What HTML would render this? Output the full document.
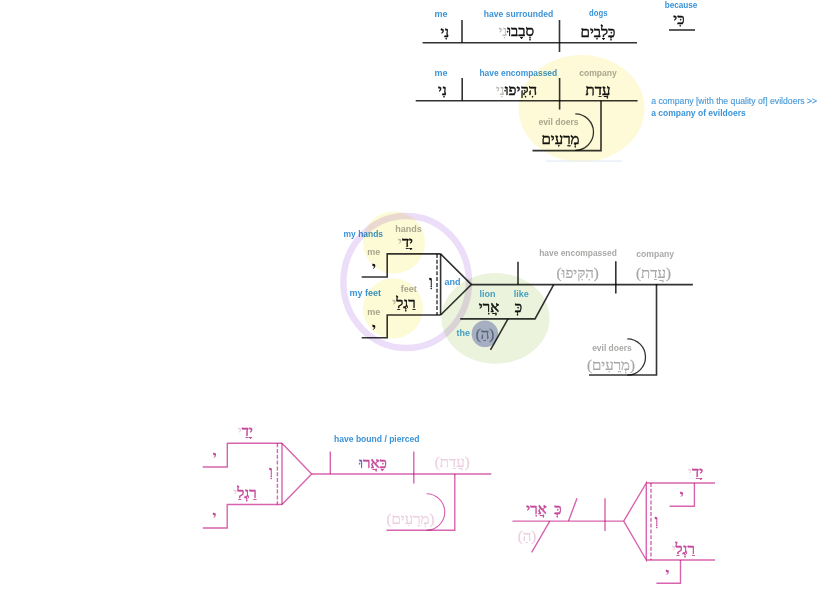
<!DOCTYPE html>
<html><head><meta charset="utf-8">
<style>
html,body{margin:0;padding:0;background:#fff;width:825px;height:589px;overflow:hidden}
svg{display:block}
.en{font-family:"Liberation Sans",sans-serif;font-weight:bold;font-size:9px}
.bl{fill:#3b93d8}
.gr{fill:#a9a9a7}
.he{font-family:"Liberation Serif",serif;font-size:15px;fill:#111;stroke:#111;stroke-width:0.45}
.hg{fill:#b8b8b2;stroke:#b8b8b2;stroke-width:0.2}
.hgr{fill:#a6a6a6;stroke:#a6a6a6;stroke-width:0.2}
.pkt{fill:#c4489a;stroke:#c4489a}
.lpk{fill:#eccfe0;stroke:#eccfe0;stroke-width:0.2}
.ln{stroke:#333;stroke-width:1.6;fill:none}
.pk{stroke:#d864ae;stroke-width:1.4;fill:none}
.mb{mix-blend-mode:multiply}
svg text,svg path{mix-blend-mode:multiply}
</style></head><body>
<svg width="825" height="589" viewBox="0 0 825 589">
<!-- backgrounds -->
<ellipse cx="581.6" cy="108.5" rx="63" ry="53.5" fill="#fefad7"/>
<line x1="546" y1="161" x2="622" y2="161" stroke="#dce8f4" stroke-width="1"/>
<ellipse cx="495.5" cy="318.4" rx="54" ry="45.3" fill="#ebf3dc"/>
<ellipse class="mb" cx="406.2" cy="282" rx="62.8" ry="66" fill="none" stroke="#ecdef9" stroke-width="6.5"/>
<circle class="mb" cx="394" cy="242.5" r="31" fill="#fdfad6"/>
<circle class="mb" cx="393" cy="308.5" r="30" fill="#fdfad6"/>
<circle cx="484.9" cy="333.8" r="13.3" fill="#a5afc1"/>

<!-- ===== Section 1 ===== -->
<g class="ln">
<path d="M422.6 42.7H637"/>
<path d="M462 20V42.7"/>
<path d="M559.5 20V52"/>
<path d="M669 30H695"/>
</g>
<text class="en bl" x="441" y="16.6" text-anchor="middle">me</text>
<text class="en bl" x="518.5" y="16.6" text-anchor="middle" textLength="69.5" lengthAdjust="spacingAndGlyphs">have surrounded</text>
<text class="en bl" x="598.2" y="16.4" text-anchor="middle" textLength="18.5" lengthAdjust="spacingAndGlyphs">dogs</text>
<text class="en bl" x="681" y="8.2" text-anchor="middle" textLength="32.7" lengthAdjust="spacingAndGlyphs">because</text>
<text class="he" x="444.8" y="36.6" text-anchor="middle">נִי</text>
<text class="he" x="516.3" y="36.3" text-anchor="middle">סְבָבוּ<tspan class="hg">נִי</tspan></text>
<text class="he" x="598" y="36.5" text-anchor="middle">כְּלָבִים</text>
<text class="he" x="679" y="24" text-anchor="middle">כִּי</text>

<!-- ===== Section 2 ===== -->
<g class="ln">
<path d="M415.7 100.8H637.6"/>
<path d="M462.2 78V100.8"/>
<path d="M559.6 78V109.6"/>
<path d="M601 100.8V150.6H532.5"/>
<path d="M575.3 113.9A18.2 18.2 0 0 1 575.3 150.3" stroke-width="1.3"/>
</g>
<text class="en bl" x="441" y="75.8" text-anchor="middle">me</text>
<text class="en bl" x="518.3" y="75.8" text-anchor="middle" textLength="77.8" lengthAdjust="spacingAndGlyphs">have encompassed</text>
<text class="en gr" x="598" y="75.8" text-anchor="middle" textLength="37.6" lengthAdjust="spacingAndGlyphs">company</text>
<text class="en gr" x="558.6" y="125" text-anchor="middle" textLength="40" lengthAdjust="spacingAndGlyphs">evil doers</text>
<text class="he" x="442.5" y="94.5" text-anchor="middle">נִי</text>
<text class="he" x="516.5" y="94.5" text-anchor="middle">הִקִּיפוּ<tspan class="hg">נִי</tspan></text>
<text class="he" x="598" y="94.5" text-anchor="middle">עֲדַת</text>
<text class="he" x="560.5" y="144" text-anchor="middle">מְרֵעִים</text>
<text x="651.2" y="104" font-family="Liberation Sans" font-size="9" fill="#4a9ad8" stroke="#4a9ad8" stroke-width="0.15" textLength="166" lengthAdjust="spacingAndGlyphs">a company [with the quality of] evildoers &gt;&gt;</text>
<text x="651.2" y="116" font-family="Liberation Sans" font-size="9" font-weight="bold" fill="#3b93d8" textLength="94.5" lengthAdjust="spacingAndGlyphs">a company of evildoers</text>

<!-- ===== Section 3 ===== -->
<g class="ln">
<path d="M361.7 277H387.2V253.9H440.6"/>
<path d="M361.7 337.8H387.2V315H440.6"/>
<path d="M437 253.9V315" stroke-dasharray="4 1.8" stroke-width="1.4"/>
<path d="M440.6 253.9V315"/>
<path d="M440.6 253.9L471.4 284.6L440.6 315"/>
<path d="M471.4 284.6H692.9"/>
<path d="M518 261.8V284.6"/>
<path d="M553.7 284.6L535 318.9H460.2"/>
<path d="M508 318.9L490.5 349.9"/>
<path d="M615.8 261.2V293.5"/>
<path d="M656.5 284.1V375H589"/>
<path d="M627.3 338.8A18.2 18.2 0 0 1 627.3 375.2" stroke-width="1.3"/>
</g>
<text class="en bl" x="363.3" y="237.2" text-anchor="middle" textLength="39.5" lengthAdjust="spacingAndGlyphs">my hands</text>
<text class="en gr" x="408.5" y="232" text-anchor="middle">hands</text>
<text class="en gr" x="373.7" y="254.8" text-anchor="middle">me</text>
<text class="en bl" x="365.3" y="296" text-anchor="middle">my feet</text>
<text class="en gr" x="408.8" y="291.5" text-anchor="middle">feet</text>
<text class="en gr" x="373.7" y="314.5" text-anchor="middle">me</text>
<text class="en bl" x="452.5" y="285.3" text-anchor="middle">and</text>
<text class="en" fill="#4ba8de" x="487.5" y="297" text-anchor="middle">lion</text>
<text class="en" fill="#4ba8de" x="521.3" y="297" text-anchor="middle">like</text>
<text class="en" fill="#4ba8de" x="463.3" y="336.3" text-anchor="middle">the</text>
<text class="en gr" x="578" y="256" text-anchor="middle" textLength="77.6" lengthAdjust="spacingAndGlyphs">have encompassed</text>
<text class="en gr" x="655.1" y="256.5" text-anchor="middle" textLength="37.8" lengthAdjust="spacingAndGlyphs">company</text>
<text class="en gr" x="611.9" y="351" text-anchor="middle" textLength="39.5" lengthAdjust="spacingAndGlyphs">evil doers</text>
<text class="he" x="405.5" y="246.5" text-anchor="middle">יָדַ<tspan class="hg">י</tspan></text>
<text class="he" x="404" y="308" text-anchor="middle">רַגְלַ<tspan class="hg">י</tspan></text>
<text class="he" x="374" y="272" text-anchor="middle" font-weight="bold" style="stroke-width:0.1">י</text>
<text class="he" x="374" y="333" text-anchor="middle" font-weight="bold" style="stroke-width:0.1">י</text>
<text class="he" x="430.8" y="286" text-anchor="middle" font-weight="bold" style="stroke-width:0.1">וְ</text>
<text class="he" x="489" y="312" text-anchor="middle">אֲרִי</text>
<text class="he" x="518.3" y="312" text-anchor="middle">כְּ</text>
<text class="he" x="485" y="339" text-anchor="middle" style="fill:#8993a5;stroke:#8993a5;stroke-width:0.3">(הַ)</text>
<text class="he hgr" x="577.7" y="278.3" text-anchor="middle">(הִקִּיפוּ)</text>
<text class="he hgr" x="653.5" y="278.3" text-anchor="middle">(עֲדַת)</text>
<text class="he hgr" x="611" y="370" text-anchor="middle">(מְרֵעִים)</text>

<!-- ===== Section 4 ===== -->
<g class="pk">
<path d="M202.7 467H227.3V443.2H282"/>
<path d="M202.8 528H227.2V504.5H282"/>
<path d="M277.4 443.2V504.5" stroke-dasharray="4 1.8"/>
<path d="M282 443.2V504.5"/>
<path d="M282 443.2L311.7 474L282 504.5"/>
<path d="M311.7 474H491.3"/>
<path d="M330.3 451.6V474"/>
<path d="M413.8 451.6V483.5"/>
<path d="M454.8 474V530.2H386.5"/>
<path d="M426.5 493.7A18.25 18.25 0 0 1 426.5 530.2" stroke-width="1.15"/>
</g>
<text class="en bl" x="376.8" y="441.5" text-anchor="middle" textLength="85.5" lengthAdjust="spacingAndGlyphs">have bound / pierced</text>
<text class="he pkt" x="245.3" y="436.2" text-anchor="middle">יָדַ<tspan class="lpk">י</tspan></text>
<text class="he pkt" x="245" y="497.7" text-anchor="middle">רַגְלַ<tspan class="lpk">י</tspan></text>
<text class="he pkt" x="214.7" y="461" text-anchor="middle" font-weight="bold" style="stroke-width:0.1">י</text>
<text class="he pkt" x="214.5" y="521" text-anchor="middle" font-weight="bold" style="stroke-width:0.1">י</text>
<text class="he pkt" x="271" y="476" text-anchor="middle" font-weight="bold" style="stroke-width:0.1">וְ</text>
<text class="he pkt" x="373" y="467.5" text-anchor="middle">כָּאֲר<tspan style="fill:#6a58c8;stroke:#6a58c8">וּ</tspan></text>
<text class="he lpk" x="452.3" y="467" text-anchor="middle">(עֲדַת)</text>
<text class="he lpk" x="410.5" y="524" text-anchor="middle">(מְרֵעִים)</text>

<!-- ===== Section 5 ===== -->
<g class="pk">
<path d="M512.5 521.1H623.7"/>
<path d="M568.5 521.1L577 498.2"/>
<path d="M549.8 521.1L531.7 552.3"/>
<path d="M605 498.2V531"/>
<path d="M623.7 521.1L646.3 483V560L623.7 521.1"/>
<path d="M651 483V560" stroke-dasharray="4 1.8"/>
<path d="M646.3 483H715"/>
<path d="M646.3 560H715"/>
<path d="M694.4 483V506.2H669.7"/>
<path d="M680.5 560V583.3H656.4"/>
</g>
<text class="he pkt" x="536.5" y="513.7" text-anchor="middle">אֲרִי</text><text class="he pkt" x="558" y="513.7" text-anchor="middle">כְּ</text>
<text class="he lpk" x="527" y="541" text-anchor="middle">(הַ)</text>
<text class="he pkt" x="695.6" y="476.5" text-anchor="middle">יָדַ<tspan class="lpk">י</tspan></text>
<text class="he pkt" x="683.3" y="554" text-anchor="middle">רַגְלַ<tspan class="lpk">י</tspan></text>
<text class="he pkt" x="681.8" y="499.5" text-anchor="middle" font-weight="bold" style="stroke-width:0.1">י</text>
<text class="he pkt" x="667.5" y="578" text-anchor="middle" font-weight="bold" style="stroke-width:0.1">י</text>
<text class="he pkt" x="656.5" y="525" text-anchor="middle" font-weight="bold" style="stroke-width:0.1">וְ</text>
</svg>
</body></html>
